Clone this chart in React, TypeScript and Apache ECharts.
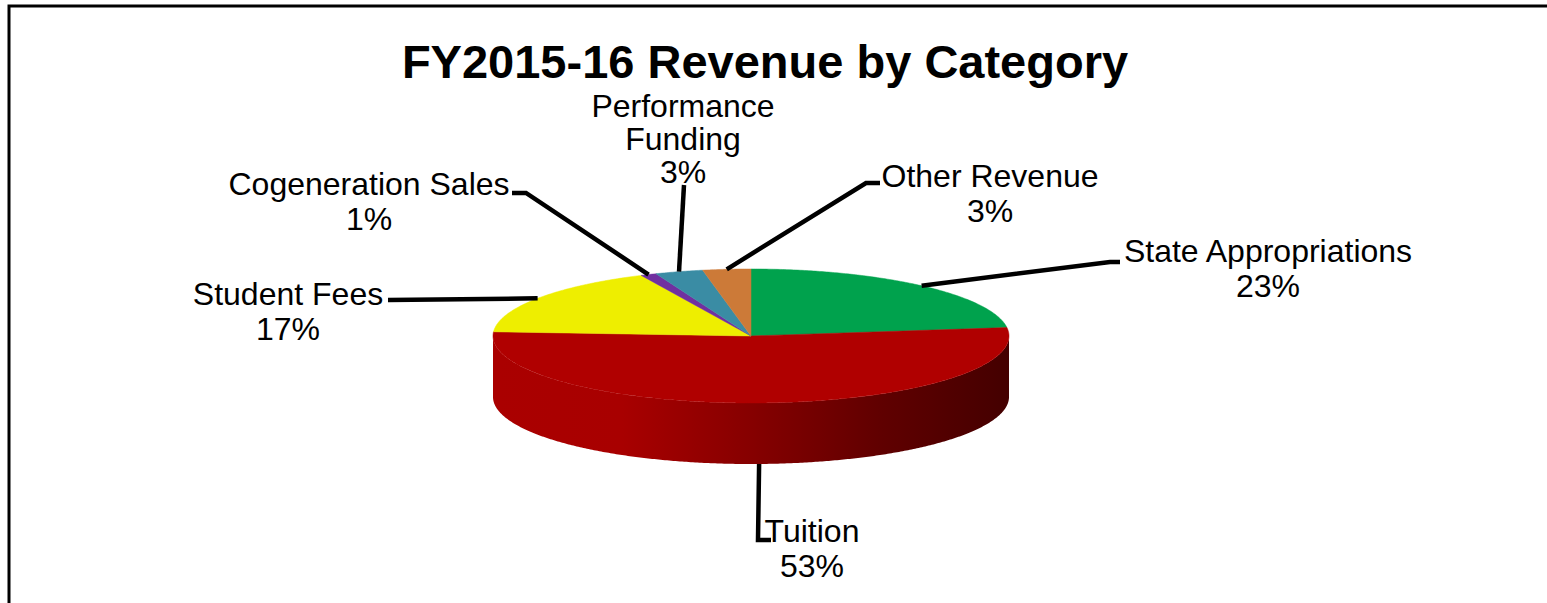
import React, { useEffect, useRef } from "react";
import * as echarts from "echarts";

const TITLE = "FY2015-16 Revenue by Category";
const categories = [
  "State Appropriations",
  "Tuition",
  "Student Fees",
  "Cogeneration Sales",
  "Performance Funding",
  "Other Revenue",
];
const values = [23, 53, 17, 1, 3, 3];
const labelNames = [
  "State Appropriations",
  "Tuition",
  "Student Fees",
  "Cogeneration Sales",
  "Performance\nFunding",
  "Other Revenue",
];
const colors = ["#00A24D", "#B00000", "#EEEE00", "#7030A0", "#3A8CA4", "#CC7A38"];

// layout (positions only)
const PIE = { cx: 751, cy: 336, rx: 258, ry: 67, depth: 61 };
const labelLayout = [
  { x: 1268, y: 268, lh: 35, elbow: [1110, 262], end: [1120, 262] },
  { x: 812, y: 548, lh: 35, elbow: [758, 540], end: [771, 540] },
  { x: 288, y: 311, lh: 35, elbow: [388, 300], end: [388, 300] },
  { x: 369, y: 201, lh: 35, elbow: [526, 193], end: [512, 193] },
  { x: 683, y: 139, lh: 33, elbow: [684, 185], end: [684, 185] },
  { x: 990, y: 193, lh: 35, elbow: [866, 183], end: [880, 183] },
];

const FONT = "'Liberation Sans', Arial, Helvetica, sans-serif";

function pt(a: number, dy = 0): number[] {
  const r = (a * Math.PI) / 180;
  return [PIE.cx + PIE.rx * Math.sin(r), PIE.cy - PIE.ry * Math.cos(r) + dy];
}
function arc(a0: number, a1: number, dy = 0): number[][] {
  const n = Math.max(2, Math.ceil(Math.abs(a1 - a0) * 2));
  const pts: number[][] = [];
  for (let i = 0; i <= n; i++) pts.push(pt(a0 + ((a1 - a0) * i) / n, dy));
  return pts;
}

export default function App() {
  const ref = useRef<HTMLDivElement>(null);
  useEffect(() => {
    if (!ref.current) return;
    const chart = echarts.init(ref.current, undefined, { renderer: "svg" });
    const total = values.reduce((s, v) => s + v, 0);
    const starts: number[] = [];
    let acc = 0;
    values.forEach((v) => {
      starts.push((acc / total) * 360);
      acc += v;
    });

    const renderItem = (params: any, api: any) => {
      const i = params.dataIndex;
      const v = api.value(0);
      const a0 = starts[i];
      const a1 = a0 + (v / total) * 360;
      const children: any[] = [];
      children.push({
        type: "polygon",
        z2: 10,
        shape: { points: [[PIE.cx, PIE.cy], ...arc(a0, a1)] },
        style: { fill: colors[i], stroke: colors[i], lineWidth: 0.5 },
      });
      const s = Math.max(a0, 90);
      const e = Math.min(a1, 270);
      if (e > s) {
        const pts = [...arc(s, e), ...arc(e, s, PIE.depth)];
        children.push({
          type: "polygon",
          z2: 5,
          shape: { points: pts },
          style: {
            fill: {
              type: "linear",
              global: true,
              x: PIE.cx - PIE.rx,
              y: 0,
              x2: PIE.cx + PIE.rx,
              y2: 0,
              colorStops: [
                { offset: 0, color: "#AA0000" },
                { offset: 0.25, color: "#A80000" },
                { offset: 0.5, color: "#860000" },
                { offset: 0.75, color: "#600000" },
                { offset: 1, color: "#440000" },
              ],
            },
          },
        });
      }
      const mid = (a0 + a1) / 2;
      const cosm = Math.cos((mid * Math.PI) / 180);
      const anchor = pt(mid, cosm < 0 ? PIE.depth : 0);
      const L = labelLayout[i];
      children.push({
        type: "polyline",
        z2: 20,
        shape: { points: [anchor, L.elbow, L.end] },
        style: { stroke: "#000", lineWidth: 4.5, fill: null },
      });
      const pct = Math.round((v / total) * 100) + "%";
      children.push({
        type: "text",
        z2: 30,
        x: L.x,
        y: L.y,
        style: {
          text: labelNames[i] + "\n" + pct,
          align: "center",
          verticalAlign: "middle",
          fontSize: 32,
          lineHeight: L.lh,
          fontFamily: FONT,
          fill: "#000",
        },
      });
      return { type: "group", children };
    };

    chart.setOption({
      animation: false,
      backgroundColor: "#fff",
      title: {
        text: TITLE,
        left: 765,
        top: 46,
        padding: 0,
        textAlign: "center",
        textStyle: {
          fontSize: 47,
          lineHeight: 30,
          fontWeight: "bold",
          fontFamily: FONT,
          color: "#000",
        },
      },
      graphic: [
        {
          type: "rect",
          shape: { x: 9, y: 6, width: 1700, height: 800 },
          style: { fill: null, stroke: "#000", lineWidth: 3 },
          silent: true,
        },
      ],
      series: [
        {
          type: "custom",
          coordinateSystem: "none",
          silent: true,
          data: values.map((v, i) => ({ name: categories[i], value: v })),
          renderItem,
        },
      ],
    });
    return () => chart.dispose();
  }, []);
  return (
    <div
      ref={ref}
      style={{ position: "absolute", left: 0, top: 0, width: 1547, height: 603 }}
    />
  );
}
